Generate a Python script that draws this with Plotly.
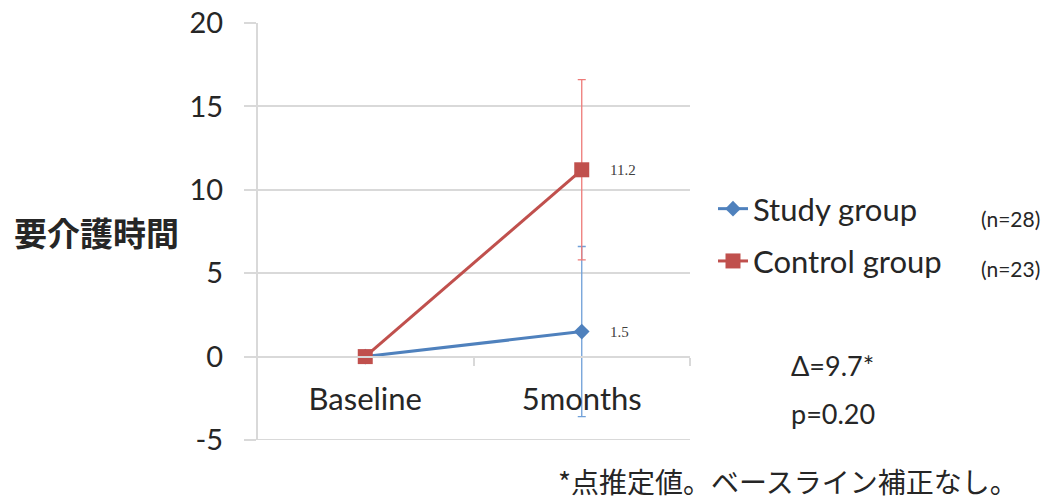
import plotly.graph_objects as go

# Data
categories = ["Baseline", "5months"]
study_values = [0, 1.5]
study_err = [0, 5.1]
control_values = [0, 11.2]
control_err = [0, 5.4]
y_ticks = [-5, 0, 5, 10, 15, 20]
y_tick_labels = ["-5", "0", "5", "10", "15", "20"]

W, H = 1049, 502
ML, MR, MT, MB = 257, 359, 23, 62
PW, PH = W - ML - MR, H - MT - MB

BLUE = "#4F81BD"
RED = "#C0504D"
GRID = "#d9d9d9"
TXT = "#262626"
LATIN = "Lato, 'Noto Sans', sans-serif"
CJK = "'Noto Sans CJK JP', sans-serif"


def px(x):
    return (x - ML) / PW


def py(y):
    return (H - MB - y) / PH


fig = go.Figure()

fig.add_trace(go.Scatter(
    x=categories, y=study_values, name="Study group", legendgroup="a",
    mode="lines+markers",
    line=dict(color=BLUE, width=3),
    marker=dict(symbol="diamond", size=12, color=BLUE),
    error_y=dict(type="data", array=study_err, color="#6f9fd8", thickness=1.3, width=4),
))
fig.add_trace(go.Scatter(
    x=categories, y=control_values, name="Control group", legendgroup="b",
    mode="lines+markers",
    line=dict(color=RED, width=3),
    marker=dict(symbol="square", size=15, color=RED),
    error_y=dict(type="data", array=control_err, color="#ee7a78", thickness=1.3, width=4),
))

annotations = []
# value labels beside the 5-month points
for vals in (control_values, study_values):
    annotations.append(dict(
        x=categories[1], y=vals[1], xref="x", yref="y", text=f"{vals[1]}",
        showarrow=False, xanchor="left", xshift=26,
        font=dict(family="'Liberation Serif', serif", size=15, color="#404040"),
    ))

# y-axis title
annotations.append(dict(
    x=px(96), y=py(232), xref="paper", yref="paper", text="<b>要介護時間</b>",
    showarrow=False, xanchor="center", yanchor="middle",
    font=dict(family=CJK, size=33, color=TXT),
))
# group sizes
for t, yy in (("(n=28)", 218), ("(n=23)", 268)):
    annotations.append(dict(
        x=px(1010), y=py(yy), xref="paper", yref="paper", text=t,
        showarrow=False, xanchor="center", yanchor="middle",
        font=dict(family=LATIN, size=21, color=TXT),
    ))
# difference and p-value
for t, yy in (("Δ=9.7*", 365), ("p=0.20", 413)):
    annotations.append(dict(
        x=px(789), y=py(yy), xref="paper", yref="paper", text=t,
        showarrow=False, xanchor="left", yanchor="middle",
        font=dict(family=LATIN, size=27, color=TXT),
    ))
# footnote
annotations.append(dict(
    x=px(556), y=py(481), xref="paper", yref="paper",
    text="*点推定値。ベースライン補正なし。",
    showarrow=False, xanchor="left", yanchor="middle",
    font=dict(family=CJK, size=28, color=TXT),
))

fig.update_layout(
    width=W, height=H,
    margin=dict(l=ML, r=MR, t=MT, b=MB, autoexpand=False),
    plot_bgcolor="white", paper_bgcolor="white",
    font=dict(family=LATIN, color=TXT),
    showlegend=True,
    legend=dict(
        xref="container", yref="container", x=713 / W, y=1 - 182 / H,
        xanchor="left", yanchor="top",
        font=dict(family=LATIN, size=31, color=TXT),
        bgcolor="rgba(0,0,0,0)", tracegroupgap=9,
    ),
    xaxis=dict(
        type="category", range=[-0.5, 1.5],
        anchor="free", position=py(356.5), automargin=False,
        showline=True, linecolor=GRID, linewidth=2,
        ticks="outside", tickson="boundaries", ticklen=8, tickcolor=GRID, tickwidth=2,
        showgrid=False, zeroline=False,
        tickfont=dict(size=31, color=TXT), ticklabelstandoff=15,
    ),
    yaxis=dict(
        range=[-5, 20], tickvals=y_ticks, ticktext=y_tick_labels,
        anchor="free", position=0, automargin=False,
        showline=True, linecolor=GRID, linewidth=2,
        showgrid=True, gridcolor=GRID, gridwidth=2, zeroline=False,
        ticks="outside", ticklen=12, tickcolor=GRID, tickwidth=2,
        tickfont=dict(size=29, color=TXT), ticklabelstandoff=15,
    ),
    # bottom gridline of the value axis
    shapes=[dict(
        type="line", xref="paper", yref="y", x0=0, x1=1, y0=y_ticks[0], y1=y_ticks[0],
        line=dict(color=GRID, width=2), layer="below",
    )],
    annotations=annotations,
)

fig.write_html("out.html")
